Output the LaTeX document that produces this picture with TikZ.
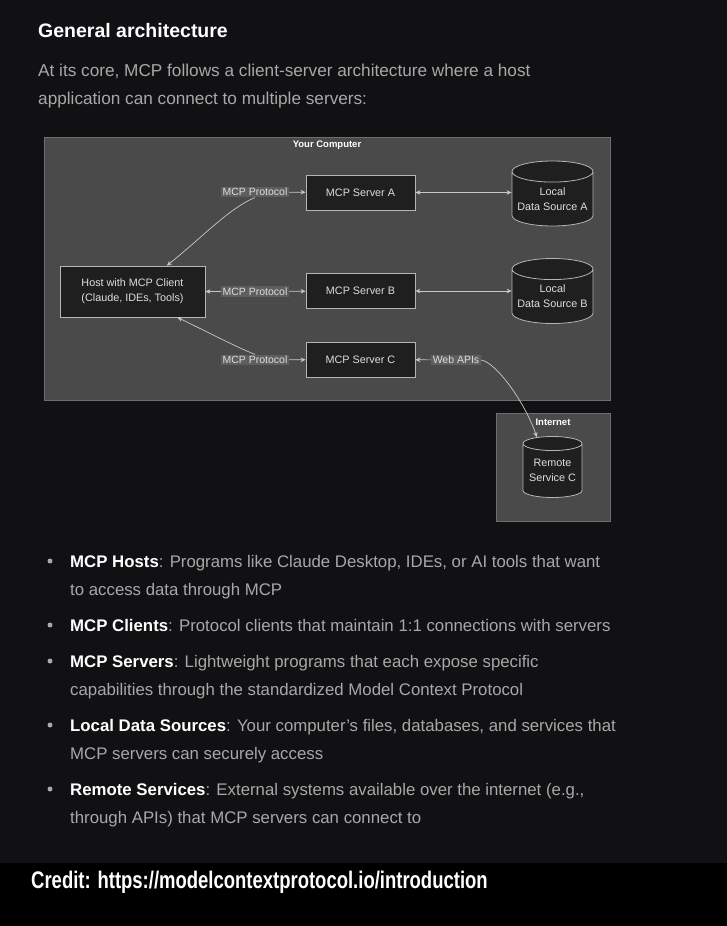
\documentclass[tikz,border=0pt]{standalone}
\usepackage{fontspec}
\setmainfont{Liberation Sans}
\newfontfamily\creditfont[FakeStretch=0.77]{Liberation Sans}
\usetikzlibrary{shapes.geometric,arrows.meta}

\definecolor{pagebg}{HTML}{111113}
\definecolor{panelbg}{HTML}{4A4A4A}
\definecolor{panelline}{HTML}{6E6E6E}
\definecolor{boxbg}{HTML}{1F1F1F}
\definecolor{boxline}{HTML}{B5B5B5}
\definecolor{labelbg}{HTML}{5E5E5E}
\definecolor{edgecol}{HTML}{C8C8C8}
\definecolor{bodytext}{HTML}{A8A8A8}
\definecolor{boxtext}{HTML}{DEDEDE}

\tikzset{
  box/.style={draw=boxline, fill=boxbg, text=boxtext, align=center,
    font=\fontsize{10.8}{15}\selectfont, line width=0.8pt, inner sep=0pt},
  server/.style={box, minimum width=109, minimum height=35},
  hostbox/.style={box, minimum width=145, minimum height=51},
  db/.style={box, cylinder, shape border rotate=90, aspect=0.3,
    minimum width=81, minimum height=65, anchor=shape center},
  proto/.style={fill=labelbg, text=boxtext, inner sep=1.5pt,
    font=\fontsize{10.5}{13}\selectfont},
  panel/.style={fill=panelbg, draw=panelline, line width=0.8pt},
  ptitle/.style={text=white, font=\bfseries\fontsize{9.5}{11}\selectfont, inner sep=0pt},
  edge/.style={draw=edgecol, line width=0.7pt, -{Stealth[length=5pt,width=4.5pt]}},
  both/.style={edge, {Stealth[length=5pt,width=4.5pt]}-{Stealth[length=5pt,width=4.5pt]}},
  para/.style={anchor=base west, text=bodytext, inner sep=0pt,
    font=\fontsize{16.8}{28}\selectfont, align=left},
  dot/.style={circle, fill=bodytext, inner sep=0pt, minimum size=5}
}

\begin{document}
\begin{tikzpicture}[x=1pt,y=-1pt]
  \useasboundingbox[fill=pagebg] (0,0) rectangle (727,926);
  \fill[black] (0,863) rectangle (727,926);

  % heading and intro
  \node[para, text=white, font=\bfseries\fontsize{19.5}{24}\selectfont] (title) at (38,37) {General architecture};
  \node[para, font=\fontsize{17.2}{28}\selectfont] (intro1) at (38,76) {At its core, MCP follows a client-server architecture where a host};
  \node[para, font=\fontsize{17.2}{28}\selectfont] (intro2) at (38,104) {application can connect to multiple servers:};

  % panels
  \draw[panel] (44,137) rectangle (610,400);
  \node[ptitle] (yourpc) at (327,145) {Your Computer};
  \draw[panel] (496,413) rectangle (610,521);
  \node[ptitle] (internet) at (553,422) {Internet};

  % boxes
  \node[hostbox] (host) at (132.5,291.5) {Host with MCP Client\\(Claude, IDEs, Tools)};
  \node[server] (sa) at (360.5,192.5) {MCP Server A};
  \node[server] (sb) at (360.5,291) {MCP Server B};
  \node[server] (sc) at (360.5,359.5) {MCP Server C};
  \node[db] (dsa) at (552.5,193.5) {Local\\Data Source A};
  \node[db] (dsb) at (552.5,291) {Local\\Data Source B};
  \node[db, minimum width=59, minimum height=61] (rsc) at (552.5,467) {Remote\\Service C};

  % edge labels
  \node[proto] (pa) at (255,192) {MCP Protocol};
  \node[proto] (pb) at (255,291.5) {MCP Protocol};
  \node[proto] (pc) at (255,360) {MCP Protocol};
  \node[proto] (web) at (456,360) {Web APIs};

  % edges
  \draw[edge] (pa) -- (sa);
  \draw[edge] (pa.south) .. controls +(-25,10) and +(35,-28) .. (host.37);
  \draw[edge] (pb) -- (sb);
  \draw[edge] (pb) -- (host);
  \draw[edge] (pc) -- (sc);
  \draw[edge] (pc.north) .. controls +(-20,-8) and +(25,12) .. (host.-30);
  \draw[both] (sa.east) -- (sa.east -| dsa.west);
  \draw[both] (sb.east) -- (sb.east -| dsb.west);
  \draw[edge] (web) -- (sc);
  \draw[edge] (web.east) .. controls +(15,2) and +(-12,-35) .. (rsc.115);

  % bullet list
  \node[dot] (d1) at (50,561) {};
  \node[para] (hosts) at (70,595) {\textcolor{white}{\bfseries MCP Hosts}: Programs like Claude Desktop, IDEs, or AI tools that want\\to access data through MCP};
  \node[dot] (d2) at (50,625) {};
  \node[para] (clients) at (70,631) {\textcolor{white}{\bfseries MCP Clients}: Protocol clients that maintain 1:1 connections with servers};
  \node[dot] (d3) at (50,661) {};
  \node[para] (servers) at (70,695) {\textcolor{white}{\bfseries MCP Servers}: Lightweight programs that each expose specific\\capabilities through the standardized Model Context Protocol};
  \node[dot] (d4) at (50,725) {};
  \node[para] (local) at (70,759) {\textcolor{white}{\bfseries Local Data Sources}: Your computer’s files, databases, and services that\\MCP servers can securely access};
  \node[dot] (d5) at (50,789) {};
  \node[para] (remote) at (70,823) {\textcolor{white}{\bfseries Remote Services}: External systems available over the internet (e.g.,\\through APIs) that MCP servers can connect to};

  % credit line
  \node[anchor=base west, inner sep=0pt, text=white, font=\creditfont\bfseries\fontsize{24}{28}\selectfont] (credit) at (31,888) {Credit: https://modelcontextprotocol.io/introduction};
\end{tikzpicture}
\end{document}
